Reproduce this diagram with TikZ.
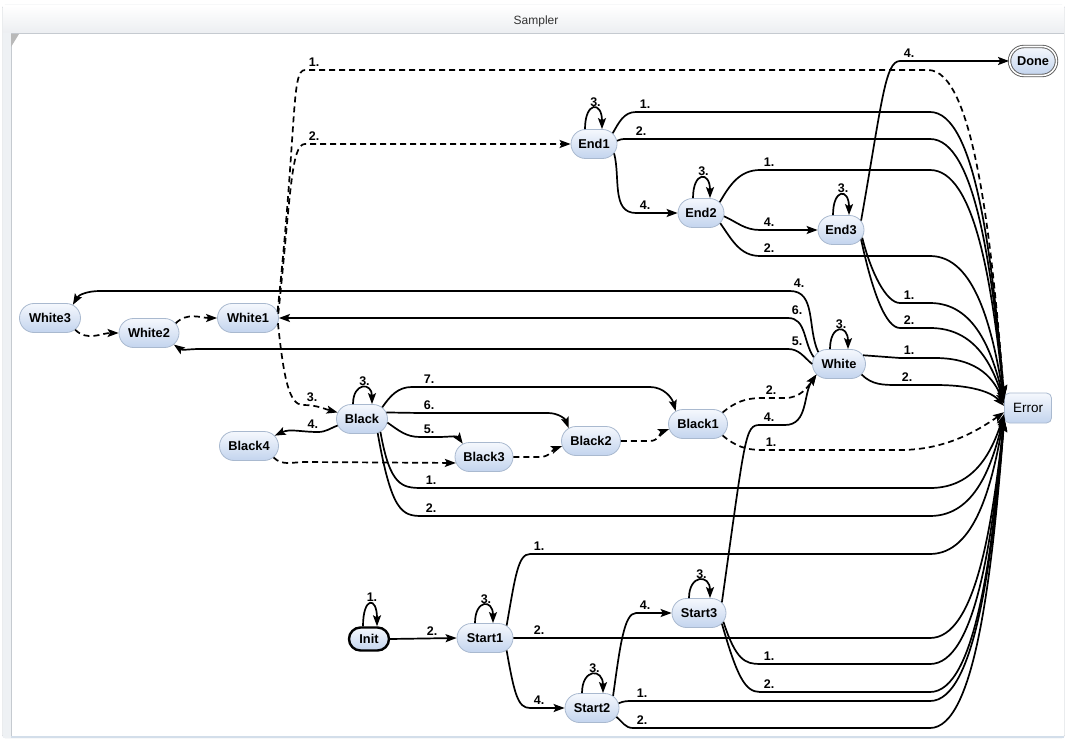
\documentclass[tikz,border=0pt]{standalone}
\usepackage{fontspec}
\setmainfont{Liberation Sans}
\usetikzlibrary{arrows.meta,shapes.misc,calc}

\definecolor{statetop}{HTML}{F5F8FD}
\definecolor{statebot}{HTML}{C3D4EE}
\definecolor{stateline}{HTML}{A9B9CF}
\definecolor{framegrey}{HTML}{C5CAD0}
\definecolor{stripgrey}{HTML}{EEF1F4}
\definecolor{titlebot}{HTML}{ECEEF1}
\definecolor{bottomblue}{HTML}{D3DEEA}

\newcommand{\statefont}{\fontsize{12.8}{14}\selectfont\bfseries}
\newcommand{\lblfont}{\fontsize{12.5}{13}\selectfont\bfseries}

\tikzset{
  state/.style={rounded rectangle, draw=stateline, line width=0.8, top color=statetop, bottom color=statebot,
    minimum height=29, minimum width=#1, inner xsep=0, inner ysep=2, font=\statefont},
  state/.default=54,
  initstate/.style={state=40, draw=black, line width=2.4, minimum height=23},
  finalstate/.style={state=47, draw=black!65, line width=0.9, double=white, double distance=1.6},
  errbox/.style={rectangle, rounded corners=5, draw=stateline, line width=0.8, top color=statetop, bottom color=statebot,
    minimum width=47, minimum height=30, font=\fontsize{13.5}{15}\selectfont},
  tr/.style={line width=1.7, -{Stealth[length=11,width=8,inset=2.2]}},
  trd/.style={tr, dash pattern=on 6pt off 4pt},
  lbl/.style={font=\lblfont, inner xsep=1, inner ysep=2.5, anchor=south west, xshift=2},
  looplbl/.style={lbl, anchor=south, xshift=0, inner ysep=1},
  % last bend of every line that runs into Error
  sink/.style={to path={.. controls ($(\tikztostart)+(45,0)$) and ($(\tikztostart)!0.5!(\tikztotarget)+(25,0)$) .. (\tikztotarget) \tikztonodes}},
}

\begin{document}
\begin{tikzpicture}[x=1pt,y=1pt]
\useasboundingbox (0,0) rectangle (1067,740);

% window frame
\fill[white] (0,0) rectangle (1067,740);
\draw[framegrey, rounded corners=3] (2.5,2) rectangle (1064.5,735);
\shade[top color=white, bottom color=titlebot] (3,707) rectangle (1064,734.5);
\draw[framegrey] (3,707) -- (1064,707);
\fill[stripgrey] (3,2.5) rectangle (11,707);
\draw[framegrey] (11,2.5) -- (11,707);
\fill[gray!55] (11,706) -- (19,706) -- (11,693) -- cycle;
\draw[bottomblue, line width=2] (11,3.5) -- (1064,3.5);
\node[font=\fontsize{12}{14}\selectfont, text=black!80] (title) at (536,719) {Sampler};

% states
\node[finalstate] (Done) at (1033,679) {Done};
\node[state=46] (End1) at (594,596) {End1};
\node[state=46] (End2) at (701,527) {End2};
\node[state=46] (End3) at (841,510) {End3};
\node[state=61] (White3) at (50,422) {White3};
\node[state=60] (White2) at (149,407) {White2};
\node[state=61] (White1) at (248,422) {White1};
\node[state=53] (White) at (839,376) {White};
\node[state=51] (Black) at (362,321) {Black};
\node[state=59] (Black4) at (249,294) {Black4};
\node[state=58] (Black3) at (484,283) {Black3};
\node[state=59] (Black2) at (591,299) {Black2};
\node[state=59] (Black1) at (698,316) {Black1};
\node[errbox] (Error) at (1028,332) {Error};
\node[initstate] (Init) at (369,101) {Init};
\node[state=56] (Start1) at (485,102) {Start1};
\node[state=54] (Start3) at (699,127) {Start3};
\node[state=54] (Start2) at (592,32) {Start2};

% White1
\draw[trd] (White1.12) to[out=84,in=180,out distance=190,in distance=14] (305,670) node[lbl] (l-White1-1) {1.} -- (928,670) to[sink] (Error.153);
\draw[trd] (White1.8) to[out=84,in=180,out distance=120,in distance=14] (305,596) node[lbl] (l-White1-2) {2.} -- (End1.west);
\draw[trd] (White1.-10) to[out=-84,in=180,out distance=55,in distance=14] (303,335) node[lbl] (l-White1-3) {3.} to[out=0,in=165] (Black.165);
\draw[trd] (White3.-25) to[out=-45,in=180] (White2.west);
\draw[trd] (White2.20) to[out=45,in=180] (White1.west);

% White
\draw[tr] ([xshift=-9]White.north) .. controls +(0,25) and +(0,25) .. ([xshift=9]White.north) node[looplbl, pos=0.5] (l-White-3) {3.};
\draw[tr] (White.150) to[out=115,in=0] (790,449) node[lbl] (l-White-4) {4.} -- (100,449) to[out=180,in=60] (White3.30);
\draw[tr] (White.165) to[out=125,in=0] (788,422) node[lbl] (l-White-6) {6.} -- (White1.east);
\draw[tr] (White.180) to[out=140,in=0] (788,391) node[lbl] (l-White-5) {5.} -- (200,391) to[out=180,in=-35] (White2.-25);
\draw[tr] (White.20) -- (900,382) node[lbl] (l-White-1) {1.} -- (935,382) to[sink] (Error.170);
\draw[tr] (White.-25) to[out=-45,in=180] (898,355) node[lbl] (l-White-2) {2.} -- (935,355) to[sink] (Error.175);

% End1
\draw[tr] ([xshift=-9]End1.north) .. controls +(0,28) and +(0,28) .. ([xshift=8]End1.north) node[looplbl, pos=0.5] (l-End1-3) {3.};
\draw[tr] (End1.30) to[out=60,in=180] (636,628) node[lbl] (l-End1-1) {1.} -- (930,628) to[sink] (Error.155);
\draw[tr] (End1.8) to[out=25,in=180] (632,601) node[lbl] (l-End1-2) {2.} -- (930,601) to[sink] (Error.157);
\draw[tr] (End1.-25) to[out=-75,in=180] (636,527) node[lbl] (l-End1-4) {4.} -- (End2.west);

% End2
\draw[tr] ([xshift=-8]End2.north) .. controls +(0,27) and +(0,27) .. ([xshift=9]End2.north) node[looplbl, pos=0.5] (l-End2-3) {3.};
\draw[tr] (End2.30) to[out=60,in=180] (760,570) node[lbl] (l-End2-1) {1.} -- (930,570) to[sink] (Error.159);
\draw[tr] (End2.-8) to[out=-25,in=180] (760,510) node[lbl] (l-End2-4) {4.} -- (End3.west);
\draw[tr] (End2.-28) to[out=-55,in=180] (760,484) node[lbl] (l-End2-2) {2.} -- (930,484) to[sink] (Error.161);

% End3
\draw[tr] ([xshift=-8]End3.north) .. controls +(0,27) and +(0,27) .. ([xshift=8]End3.north) node[looplbl, pos=0.5] (l-End3-3) {3.};
\draw[tr] (End3.25) to[out=80,in=180,out distance=120,in distance=15] (900,679) node[lbl] (l-End3-4) {4.} -- (Done.west);
\draw[tr] (End3.-20) to[out=-76,in=180,out distance=35,in distance=14] (900,437) node[lbl] (l-End3-1) {1.} -- (930,437) to[sink] (Error.163);
\draw[tr] (End3.-25) to[out=-78,in=180,out distance=55,in distance=14] (900,412) node[lbl] (l-End3-2) {2.} -- (930,412) to[sink] (Error.166);

% Black
\draw[tr] ([xshift=-9]Black.north) .. controls +(0,22) and +(0,22) .. ([xshift=10]Black.north) node[looplbl, pos=0.5] (l-Black-3) {3.};
\draw[tr] (Black.195) to[out=200,in=0] (318,308) node[lbl, anchor=south east, xshift=0] (l-Black-4) {4.} to[out=180,in=25] (Black4.22);
\draw[tr] (Black.30) to[out=55,in=180] (412,353) -- (420,353) node[lbl] (l-Black-7) {7.} -- (650,353) to[out=0,in=105] (Black1.150);
\draw[tr] (Black.15) -- (420,327) node[lbl] (l-Black-6) {6.} -- (548,327) to[out=0,in=110] (Black2.150);
\draw[tr] (Black.-8) to[out=-35,in=180] (420,303) node[lbl] (l-Black-5) {5.} -- (438,303) to[out=0,in=125] (Black3.148);
\draw[tr] (Black.-35) to[out=-80,in=180,out distance=55,in distance=20] (422,252) node[lbl] (l-Black-1) {1.} -- (930,252) to[sink] (Error.194);
\draw[tr] (Black.-42) to[out=-80,in=180,out distance=80,in distance=20] (422,224) node[lbl] (l-Black-2) {2.} -- (930,224) to[sink] (Error.197);

% Black chain
\draw[trd] (Black4.-25) to[out=-45,in=180] (305,278) -- (Black3.192);
\draw[trd] (Black3.east) -- (540,283) to[out=0,in=200] (Black2.190);
\draw[trd] (Black2.east) -- (650,299) to[out=0,in=200] (Black1.190);
\draw[trd] (Black1.25) to[out=40,in=180] (762,342) node[lbl] (l-Black1-2) {2.} -- (785,342) to[out=0,in=235] (White.205);
\draw[trd] (Black1.-25) to[out=-40,in=180] (762,290) node[lbl] (l-Black1-1) {1.} -- (900,290) to[sink] (Error.190);

% Init and Start1
\draw[tr] ([xshift=-6]Init.north) .. controls +(0,30) and +(0,30) .. ([xshift=8]Init.north) node[looplbl, pos=0.5] (l-Init-1) {1.};
\draw[tr] (Init.east) -- (Start1.west) node[lbl, pos=0.6, anchor=south, xshift=0] (l-Init-2) {2.};
\draw[tr] ([xshift=-10]Start1.north) .. controls +(0,24) and +(0,24) .. ([xshift=8]Start1.north) node[looplbl, pos=0.5] (l-Start1-3) {3.};
\draw[tr] (Start1.30) to[out=80,in=180,out distance=50,in distance=12] (530,186) node[lbl] (l-Start1-1) {1.} -- (930,186) to[sink] (Error.199);
\draw[tr] (Start1.east) -- (530,102) node[lbl] (l-Start1-2) {2.} -- (930,102) to[sink] (Error.203);
\draw[tr] (Start1.-30) to[out=-80,in=180,out distance=45,in distance=12] (530,32) node[lbl] (l-Start1-4) {4.} -- (Start2.west);

% Start2
\draw[tr] ([xshift=-10]Start2.north) .. controls +(0,25) and +(0,25) .. ([xshift=11]Start2.north) node[looplbl, pos=0.5] (l-Start2-3) {3.};
\draw[tr] (Start2.30) to[out=82,in=180,out distance=50,in distance=12] (636,127) node[lbl] (l-Start2-4) {4.} -- (Start3.west);
\draw[tr] (Start2.10) to[out=25,in=180] (633,39) node[lbl] (l-Start2-1) {1.} -- (930,39) to[sink] (Error.207);
\draw[tr] (Start2.-20) to[out=-40,in=180] (633,12) node[lbl] (l-Start2-2) {2.} -- (930,12) to[sink] (Error.209);

% Start3
\draw[tr] ([xshift=-10]Start3.north) .. controls +(0,24) and +(0,24) .. ([xshift=11]Start3.north) node[looplbl, pos=0.5] (l-Start3-3) {3.};
\draw[tr] (Start3.25) to[out=82,in=180,out distance=170,in distance=15] (760,315) node[lbl] (l-Start3-4) {4.} -- (785,315) to[out=0,in=235] (White.205);
\draw[tr] (Start3.-20) to[out=-72,in=180,out distance=40,in distance=15] (760,76) node[lbl] (l-Start3-1) {1.} -- (930,76) to[sink] (Error.205);
\draw[tr] (Start3.-25) to[out=-74,in=180,out distance=55,in distance=15] (760,48) node[lbl] (l-Start3-2) {2.} -- (930,48) to[sink] (Error.206);

\end{tikzpicture}
\end{document}
